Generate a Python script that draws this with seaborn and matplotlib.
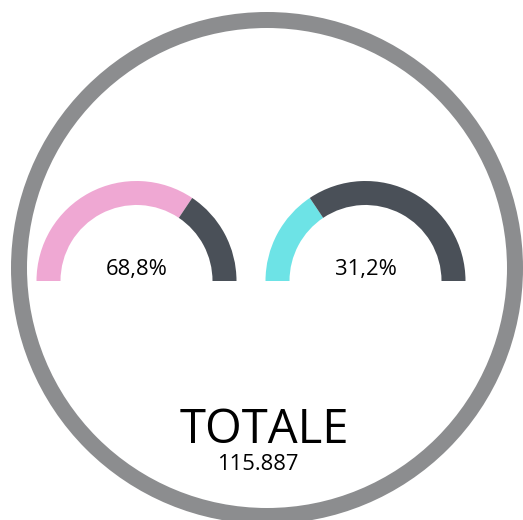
import matplotlib
matplotlib.use("Agg")
import matplotlib.pyplot as plt
from matplotlib.patches import Circle
import seaborn as sns

# Share of the total for each gauge (percent)
gauge_shares = [68.8, 31.2]
gauge_labels = ["68,8%", "31,2%"]
gauge_colors = ["#EFA8D3", "#6DE3E6"]
rest_color = "#4A5058"
total_label = "TOTALE"
total_value = "115.887"

sns.set_theme(style="white")
plt.rcParams["font.family"] = ["Open Sans", "DejaVu Sans"]

W, H = 523, 520
fig = plt.figure(figsize=(W / 100, H / 100), dpi=100)
ax = fig.add_axes([0, 0, 1, 1])

# Outer frame ring
ax.add_patch(Circle((267, 252), 248, fill=False, edgecolor="#8C8D8F", linewidth=16 * 72 / 100))

# Half-donut gauges: share, remainder, then an invisible lower half
centers = [(136.5, 239), (365.5, 239)]
for share, label, color, c in zip(gauge_shares, gauge_labels, gauge_colors, centers):
    ax.pie([share, 100 - share, 100], colors=[color, rest_color, "none"],
           startangle=180, counterclock=False, radius=100, center=c,
           wedgeprops=dict(width=24, linewidth=0))
    ax.text(c[0], c[1] + 12, label, ha="center", va="center", fontsize=15.8, color="#000000")

ax.text(264, 90, total_label, ha="center", va="center", fontsize=34, color="#000000")
ax.text(258, 55, total_value, ha="center", va="center", fontsize=15.8, color="#000000")

ax.set_xlim(0, W)
ax.set_ylim(0, H)
ax.set_aspect("equal")
ax.axis("off")
fig.savefig("out.png", dpi=100, facecolor="white")
